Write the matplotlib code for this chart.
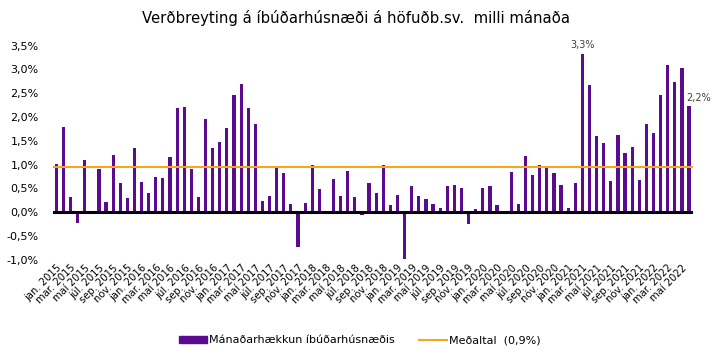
import matplotlib
matplotlib.use("Agg")
import matplotlib.pyplot as plt
from matplotlib.patches import Patch
from matplotlib.lines import Line2D
from matplotlib.ticker import FuncFormatter

months_is = ["jan.", "feb.", "mar.", "apr.", "maí", "jún.", "júl.", "ágú.", "sep.", "okt.", "nóv.", "des."]
n_months = 90  # jan 2015 - jun 2022
month_labels = [f"{months_is[i % 12]} {2015 + i // 12}" for i in range(n_months)]

values = [
    1.01, 1.79, 0.32, -0.23, 1.10, 0.00, 0.90, 0.22, 1.20, 0.62, 0.31, 1.36,
    0.64, 0.40, 0.74, 0.72, 1.16, 2.19, 2.21, 0.90, 0.32, 1.95, 1.36, 1.48,
    1.77, 2.47, 2.69, 2.19, 1.85, 0.24, 0.34, 0.98, 0.82, 0.17, -0.72, 0.20,
    0.99, 0.48, -0.03, 0.70, 0.34, 0.86, 0.32, -0.05, 0.62, 0.40, 0.99, 0.15,
    0.36, -0.98, 0.56, 0.34, 0.27, 0.17, 0.10, 0.56, 0.58, 0.52, -0.24, 0.06,
    0.52, 0.55, 0.15, -0.03, 0.84, 0.18, 1.18, 0.78, 1.00, 0.92, 0.82, 0.58,
    0.08, 0.62, 3.32, 2.67, 1.60, 1.46, 0.66, 1.62, 1.24, 1.38, 0.68, 1.85,
    1.67, 2.47, 3.09, 2.73, 3.02, 2.23,
]
mean_value = 0.95
mean_label = "Meðaltal  (0,9%)"
bar_label = "Mánaðarhækkun íbúðarhúsnæðis"
title = "Verðbreyting á íbúðarhúsnæði á höfuðb.sv.  milli mánaða"
annotations = {74: "3,3%", 89: "2,2%"}

purple = "#5a0b8f"
orange = "#f5a623"

fig = plt.figure(figsize=(7.13, 3.59), dpi=100)
ax = fig.add_axes([0.0739, 0.276, 0.8975, 0.597])

x = list(range(n_months))
ax.bar(x, values, width=0.45, color=purple, zorder=2)
ax.plot([-0.5, n_months - 0.5], [mean_value, mean_value], color=orange, lw=1.5, zorder=3)
ax.axhline(0, color="black", lw=2.2, zorder=4)

ax.set_xlim(-0.5, n_months - 0.5)
ax.set_ylim(-1.0, 3.5)
ax.set_yticks([-1.0, -0.5, 0, 0.5, 1.0, 1.5, 2.0, 2.5, 3.0, 3.5])
ax.yaxis.set_major_formatter(FuncFormatter(lambda v, p: f"{v:.1f}%".replace(".", ",")))
ax.tick_params(axis="y", length=0, labelsize=8, pad=10)

ticks = x[::2]
ax.set_xticks(ticks)
ax.set_xticklabels([month_labels[i] for i in ticks], rotation=45, ha="right",
                   rotation_mode="anchor", fontsize=7.2)
ax.tick_params(axis="x", length=0, pad=2)
for s in ax.spines.values():
    s.set_visible(False)

for i, txt in annotations.items():
    if i == 74:
        ax.text(i, values[i] + 0.08, txt, ha="center", va="bottom", fontsize=7, color="#404040")
    else:
        ax.text(i - 0.45, values[i] + 0.06, txt, ha="left", va="bottom", fontsize=7, color="#404040")

fig.suptitle(title, x=0.5, y=0.972, fontsize=10.7, va="top")

handles = [Patch(color=purple, label=bar_label),
           Line2D([0], [0], color=orange, lw=1.5, label=mean_label)]
fig.legend(handles=handles, loc="center", bbox_to_anchor=(0.505, 0.052), ncol=2,
           frameon=False, fontsize=8, handlelength=2.5, handleheight=0.5, columnspacing=2.2,
           handletextpad=0.2)

fig.savefig("out.png", dpi=100)
